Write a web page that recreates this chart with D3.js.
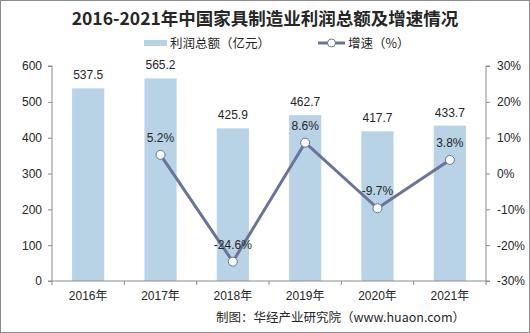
<!DOCTYPE html>
<html><head><meta charset="utf-8">
<script src="https://cdn.jsdelivr.net/npm/d3@7"></script>
<style>
html,body{margin:0;padding:0;background:#fff;}
svg{display:block;}
text{font-family:"Liberation Sans",Arial,"Noto Sans CJK SC",sans-serif;}
</style></head>
<body>
<svg id="chart" width="530" height="333"></svg>
<script>
const years = ["2016年","2017年","2018年","2019年","2020年","2021年"];
const profit = [537.5, 565.2, 425.9, 462.7, 417.7, 433.7];
const growth = [null, 5.2, -24.6, 8.6, -9.7, 3.8];
const leftTicks = [0,100,200,300,400,500,600];
const rightTicks = [-30,-20,-10,0,10,20,30];

const W = 530, H = 333;
const barColor = "#b8d3e5", lineColor = "#6b739b", textColor = "#262626", axisColor = "#8c8c8c";
const svg = d3.select("#chart");

svg.append("rect").attr("x",0.5).attr("y",0.5).attr("width",W-1).attr("height",H-1)
  .attr("fill","#fff").attr("stroke","#8c8c8c");

const m = {left:52, right:486, top:66, bottom:281};
const x = d3.scaleBand().domain(years).range([m.left,m.right]).paddingInner(0.555).paddingOuter(0.2775);
const xb = d3.scaleBand().domain(years).range([m.left,m.right]);
const yL = d3.scaleLinear().domain([0,600]).range([m.bottom,m.top]);
const yR = d3.scaleLinear().domain([-30,30]).range([m.bottom,m.top]);

// title
svg.append("text").attr("x",265).attr("y",25).attr("text-anchor","middle")
  .attr("font-size",17.5).attr("font-weight","bold").attr("fill","#262626")
  .style("font-family","'Noto Sans CJK SC',sans-serif")
  .text("2016-2021年中国家具制造业利润总额及增速情况");

// legend
svg.append("rect").attr("x",144).attr("y",40).attr("width",23).attr("height",6).attr("fill",barColor);
svg.append("text").attr("x",170).attr("y",48).attr("font-size",12.5).attr("fill",textColor)
  .style("font-family","'Noto Sans CJK SC',sans-serif").text("利润总额（亿元）");
svg.append("line").attr("x1",318).attr("x2",345).attr("y1",43).attr("y2",43).attr("stroke",lineColor).attr("stroke-width",3);
svg.append("circle").attr("cx",331.5).attr("cy",43).attr("r",4).attr("fill","#fff").attr("stroke",lineColor);
svg.append("text").attr("x",348).attr("y",48).attr("font-size",12.5).attr("fill",textColor)
  .style("font-family","'Noto Sans CJK SC',sans-serif").text("增速（%）");

// bars
svg.append("g").selectAll("rect").data(profit).join("rect")
  .attr("x",(d,i)=>x(years[i])).attr("width",x.bandwidth())
  .attr("y",d=>yL(d)).attr("height",d=>yL(0)-yL(d)).attr("fill",barColor);

svg.append("g").selectAll("text").data(profit).join("text")
  .attr("x",(d,i)=>xb(years[i])+xb.bandwidth()/2).attr("y",d=>yL(d)-9)
  .attr("text-anchor","middle").attr("font-size",12).attr("fill",textColor)
  .text(d=>d.toFixed(1));

// left axis
const gL = svg.append("g").attr("transform",`translate(${m.left},0)`)
  .call(d3.axisLeft(yL).tickValues(leftTicks).tickSize(4).tickPadding(6));
// right axis
const gR = svg.append("g").attr("transform",`translate(${m.right},0)`)
  .call(d3.axisRight(yR).tickValues(rightTicks).tickSize(4).tickPadding(7).tickFormat(d=>d+"%"));
// bottom axis
const gB = svg.append("g").attr("transform",`translate(0,${m.bottom})`)
  .call(d3.axisBottom(xb).tickSize(0).tickPadding(10));
gB.selectAll(".tick line").remove();
gB.append("g").selectAll("line").data(d3.range(years.length+1)).join("line")
  .attr("x1",i=>m.left+i*xb.step()).attr("x2",i=>m.left+i*xb.step())
  .attr("y1",0).attr("y2",4).attr("stroke",axisColor);

[gL,gR,gB].forEach(g=>{
  g.select(".domain").attr("stroke",axisColor);
  g.selectAll(".tick line").attr("stroke",axisColor);
  g.selectAll(".tick text").attr("font-size",12).attr("fill",textColor)
    .style("font-family","'Liberation Sans',Arial,'Noto Sans CJK SC',sans-serif");
});
gL.select(".domain").attr("d",`M-4,${m.top}H0V${m.bottom}H-4`);
gR.select(".domain").attr("d",`M4,${m.top}H0V${m.bottom}H4`);
gB.select(".domain").attr("d",`M${m.left},0H${m.right}`);

// line
const pts = growth.map((g,i)=>({g,i})).filter(d=>d.g!==null);
const line = d3.line().x(d=>xb(years[d.i])+xb.bandwidth()/2).y(d=>yR(d.g));
svg.append("path").datum(pts).attr("d",line).attr("fill","none")
  .attr("stroke",lineColor).attr("stroke-width",3).attr("stroke-linejoin","round");
svg.append("g").selectAll("circle").data(pts).join("circle")
  .attr("cx",d=>xb(years[d.i])+xb.bandwidth()/2).attr("cy",d=>yR(d.g)).attr("r",4.5)
  .attr("fill","#fff").attr("stroke",lineColor).attr("stroke-width",1);
svg.append("g").selectAll("text").data(pts).join("text")
  .attr("x",d=>xb(years[d.i])+xb.bandwidth()/2).attr("y",d=>yR(d.g)-13)
  .attr("text-anchor","middle").attr("font-size",12).attr("fill",textColor)
  .text(d=>d.g.toFixed(1)+"%");

// footer
svg.append("text").attr("x",465).attr("y",322).attr("text-anchor","end").attr("font-size",12.5)
  .attr("fill",textColor).style("font-family","'Noto Sans CJK SC',sans-serif")
  .text("制图：华经产业研究院（www.huaon.com）");
</script>
</body></html>
